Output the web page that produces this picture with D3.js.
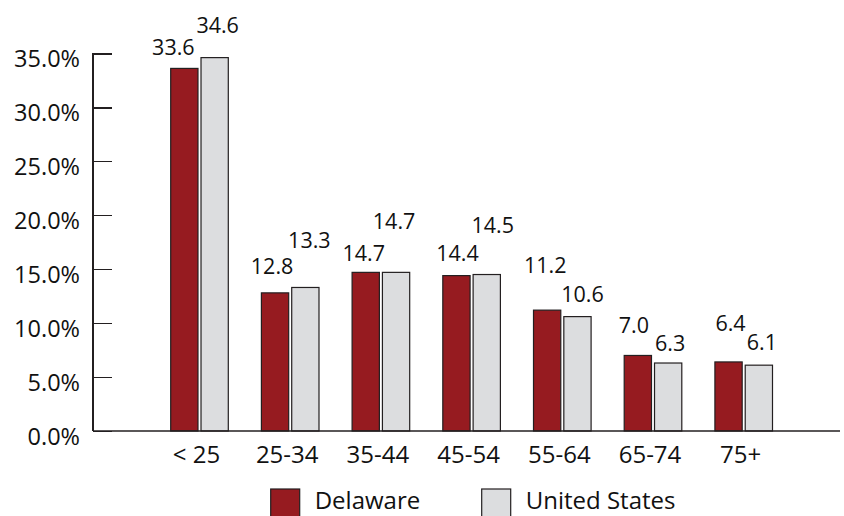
<!DOCTYPE html>
<html>
<head>
    <meta charset="utf-8">
    <title>Age distribution, Delaware vs United States</title>
    <style>
        body { margin: 0; background: #fff; }
        svg text { font-family: "Open Sans", "Noto Sans", sans-serif; fill: #111; }
        .axis path, .axis line { stroke: #231f20; stroke-width: 1.5; shape-rendering: crispEdges; }
    </style>
</head>
<body>
<script src="https://cdn.jsdelivr.net/npm/d3@7/dist/d3.min.js"></script>
<script type="text/javascript">
    // data
    var ageGroups = ["< 25", "25-34", "35-44", "45-54", "55-64", "65-74", "75+"];
    var seriesNames = ["Delaware", "United States"];
    var delaware = [33.6, 12.8, 14.7, 14.4, 11.2, 7.0, 6.4];
    var unitedStates = [34.6, 13.3, 14.7, 14.5, 10.6, 6.3, 6.1];
    var yTicks = [0, 5, 10, 15, 20, 25, 30, 35];

    // label placement (px above bar top, px shift from bar centre)
    var delLabelRise = [13, 19, 11, 15, 37, 22, 31];
    var delLabelShift = [-11, -3, -2, 1, -2, -4, 2];
    var usLabelRise = [25, 39, 43, 42, 15, 12, 15];
    var usLabelShift = [3, 4, -2, 6, 5, 2, 3];

    var colors = ["#961b20", "#dcdddf"];

    var width = 844, height = 516;
    var axisLeft = 93, axisRight = 840;

    var svg = d3.select("body").append("svg")
        .attr("width", width)
        .attr("height", height);

    var x = d3.scaleBand()
        .domain(ageGroups)
        .range([170.7, 772.5])
        .paddingInner(0.365)
        .paddingOuter(0);

    var x1 = d3.scaleBand()
        .domain(seriesNames)
        .range([0, x.bandwidth()])
        .paddingInner(0.1);

    var y = d3.scaleLinear()
        .domain([0, 35])
        .range([431, 53.3]);

    // y axis, ticks pointing into the plot
    var yAxis = d3.axisRight(y)
        .tickValues(yTicks)
        .tickSize(19)
        .tickFormat(function (d) { return d3.format(".1f")(d) + "%"; });

    var gy = svg.append("g")
        .attr("class", "axis")
        .attr("transform", "translate(" + axisLeft + ",0)")
        .call(yAxis);
    gy.select(".domain").remove();
    gy.append("line")
        .attr("x1", 0).attr("x2", 0)
        .attr("y1", y(35)).attr("y2", y(0));
    gy.selectAll(".tick text")
        .attr("x", -13)
        .attr("dy", "0.58em")
        .attr("text-anchor", "end")
        .style("font-size", "23.5px")
        .style("fill", "#111");

    // bars
    var rows = ageGroups.map(function (g, i) {
        return [
            {group: g, series: seriesNames[0], value: delaware[i], rise: delLabelRise[i], shift: delLabelShift[i], c: 0},
            {group: g, series: seriesNames[1], value: unitedStates[i], rise: usLabelRise[i], shift: usLabelShift[i], c: 1}
        ];
    });

    var groups = svg.selectAll("g.grp")
        .data(rows)
        .enter()
        .append("g")
        .attr("class", "grp")
        .attr("transform", function (d) { return "translate(" + x(d[0].group) + ",0)"; });

    groups.selectAll("rect")
        .data(function (d) { return d; })
        .enter()
        .append("rect")
        .attr("x", function (d) { return x1(d.series); })
        .attr("y", function (d) { return y(d.value); })
        .attr("width", x1.bandwidth())
        .attr("height", function (d) { return y(0) - y(d.value); })
        .attr("fill", function (d) { return colors[d.c]; })
        .attr("stroke", "#231f20")
        .attr("stroke-width", 1.2);

    groups.selectAll("text.val")
        .data(function (d) { return d; })
        .enter()
        .append("text")
        .attr("class", "val")
        .attr("x", function (d) { return x1(d.series) + x1.bandwidth() / 2 + d.shift; })
        .attr("y", function (d) { return y(d.value) - d.rise; })
        .attr("text-anchor", "middle")
        .style("font-size", "21.5px")
        .text(function (d) { return d3.format(".1f")(d.value); });

    // x axis line and labels
    svg.append("line")
        .attr("class", "axis")
        .attr("x1", axisLeft).attr("x2", axisRight)
        .attr("y1", y(0)).attr("y2", y(0))
        .attr("stroke", "#231f20")
        .attr("stroke-width", 1.5);

    svg.selectAll("text.cat")
        .data(ageGroups)
        .enter()
        .append("text")
        .attr("class", "cat")
        .attr("x", function (d) { return x(d) + x.bandwidth() / 2 - 3; })
        .attr("y", 463)
        .attr("text-anchor", "middle")
        .style("font-size", "24px")
        .text(function (d) { return d; });

    // legend (swatches run off the bottom edge, as in the original)
    var legendX = [270.7, 481.7];
    var legend = svg.selectAll("g.legend")
        .data(seriesNames)
        .enter()
        .append("g")
        .attr("class", "legend")
        .attr("transform", function (d, i) { return "translate(" + legendX[i] + ",489)"; });

    legend.append("rect")
        .attr("width", 29)
        .attr("height", 29)
        .attr("fill", function (d, i) { return colors[i]; })
        .attr("stroke", "#231f20")
        .attr("stroke-width", 1.2);

    legend.append("text")
        .attr("x", 44)
        .attr("y", 20)
        .style("font-size", "24px")
        .text(function (d) { return d; });
</script>
</body>
</html>
